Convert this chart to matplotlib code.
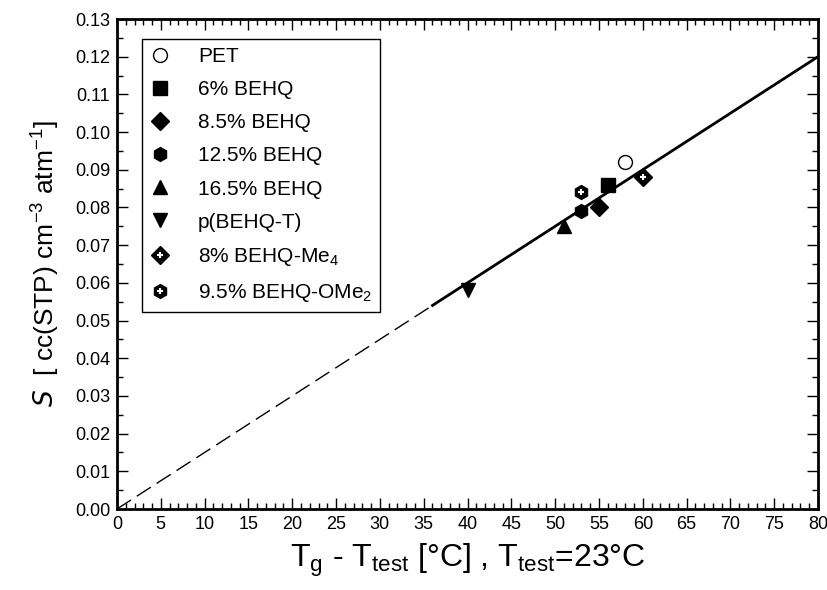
import numpy as np
import matplotlib
matplotlib.use('Agg')
import matplotlib.pyplot as plt
from matplotlib.ticker import MultipleLocator
from matplotlib.legend_handler import HandlerTuple

plt.rcParams['font.family'] = ['Liberation Sans', 'DejaVu Sans']
plt.rcParams['mathtext.fontset'] = 'custom'
plt.rcParams['mathtext.rm'] = 'Liberation Sans'
plt.rcParams['mathtext.it'] = 'DejaVu Sans:italic'

# 데이터 (Tg - Ttest, S)
labels = ['PET', '6% BEHQ', '8.5% BEHQ', '12.5% BEHQ', '16.5% BEHQ',
          'p(BEHQ-T)', '8% BEHQ-Me$_4$', '9.5% BEHQ-OMe$_2$']
x_vals = [58, 56, 55, 53, 51, 40, 60, 53]
s_vals = [0.092, 0.086, 0.080, 0.079, 0.075, 0.058, 0.088, 0.084]
markers = ['o', 's', 'D', 'h', '^', 'v', 'D', 'h']
filled = [False, True, True, True, True, True, True, True]
plus = [False, False, False, False, False, False, True, True]

# 추세선
fit_slope = 0.0015
dash_x = [0, 36]
solid_x = [36, 80]

fig = plt.figure(figsize=(8.27, 5.90), dpi=100)
ax = fig.add_axes([117/827, 81/590, 701/827, 490/590])

ax.plot(dash_x, [fit_slope*v for v in dash_x], color='black', lw=1.0,
        linestyle=(0, (12, 5)))
ax.plot(solid_x, [fit_slope*v for v in solid_x], color='black', lw=2.0)

handles = []
for i in range(len(labels)):
    ms = 10 if markers[i] != 'D' else 9
    h, = ax.plot(x_vals[i], s_vals[i], linestyle='none', marker=markers[i],
                 markersize=ms, markerfacecolor='black' if filled[i] else 'white',
                 markeredgecolor='black', markeredgewidth=1.0)
    if plus[i]:
        hp, = ax.plot(x_vals[i], s_vals[i], linestyle='none', marker='+', markersize=5,
                      markeredgecolor='white', markeredgewidth=1.5)
        handles.append((h, hp))
    else:
        handles.append(h)

ax.set_xlim(0, 80)
ax.set_ylim(0, 0.13)
ax.xaxis.set_major_locator(MultipleLocator(5))
ax.xaxis.set_minor_locator(MultipleLocator(1))
ax.yaxis.set_major_locator(MultipleLocator(0.01))
ax.yaxis.set_minor_locator(MultipleLocator(0.005))
ax.yaxis.set_major_formatter(plt.FuncFormatter(lambda v, p: '%.2f' % v))
ax.tick_params(which='both', direction='in', top=True, right=True, labelsize=13)
ax.tick_params(which='major', length=8, width=1.0, pad=5)
ax.tick_params(which='minor', length=4, width=1.0)
for sp in ax.spines.values():
    sp.set_linewidth(2.0)

ax.set_xlabel('T$_\\mathrm{g}$ - T$_\\mathrm{test}$ [°C] , T$_\\mathrm{test}$=23°C',
              fontsize=23, labelpad=6)
ax.set_ylabel('$\\mathit{S}$  [ cc(STP) cm$^{-3}$ atm$^{-1}$]', fontsize=19, labelpad=10)

leg = ax.legend(handles=handles, labels=labels, loc='upper left',
                bbox_to_anchor=(0.035, 0.96),
                handler_map={tuple: HandlerTuple(ndivide=1)},
                fontsize=15, frameon=True, fancybox=False, edgecolor='black',
                framealpha=1, handlelength=1.0, handletextpad=1.3,
                labelspacing=0.68, borderpad=0.4, borderaxespad=0)
leg.get_frame().set_linewidth(1.0)

fig.savefig('out.png', dpi=100)
